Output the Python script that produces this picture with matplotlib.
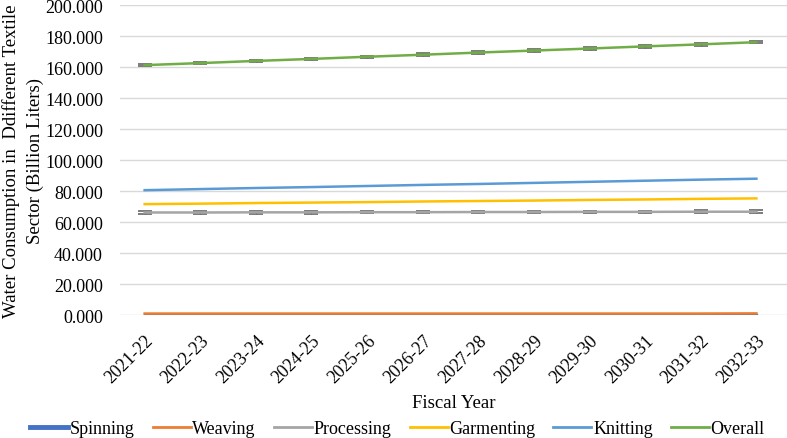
import matplotlib
matplotlib.use("Agg")
import matplotlib.pyplot as plt
import numpy as np
from matplotlib.lines import Line2D

plt.rcParams['font.family'] = ['Liberation Serif', 'DejaVu Serif']

years = ["2021-22", "2022-23", "2023-24", "2024-25", "2025-26", "2026-27",
         "2027-28", "2028-29", "2029-30", "2030-31", "2031-32", "2032-33"]
spinning = [0.3, 0.3, 0.3, 0.3, 0.3, 0.3, 0.3, 0.3, 0.3, 0.3, 0.3, 0.3]
weaving = [1.0, 1.0, 1.0, 1.0, 1.0, 1.0, 1.0, 1.0, 1.0, 1.0, 1.0, 1.1]
processing = [66.2, 66.2, 66.3, 66.3, 66.4, 66.4, 66.5, 66.5, 66.6, 66.6, 66.7, 66.7]
garmenting = [71.6, 71.9, 72.3, 72.6, 72.9, 73.3, 73.6, 73.9, 74.3, 74.6, 75.0, 75.3]
knitting = [80.6, 81.3, 82.0, 82.6, 83.3, 84.0, 84.6, 85.3, 86.0, 86.7, 87.4, 88.0]
overall = [161.3, 162.6, 164.0, 165.3, 166.7, 168.0, 169.4, 170.7, 172.0, 173.4, 174.7, 176.1]

fig = plt.figure(figsize=(7.87, 4.39), dpi=100)
ax = fig.add_axes([0.152, 0.28, 0.848, 0.706])

x = np.arange(len(years))
ecol = '#666666'
ax.plot(x, spinning, color='#4472C4', lw=2.4, label='Spinning', zorder=3)
ax.plot(x, weaving, color='#ED7D31', lw=1.8, label='Weaving', zorder=4)
ax.errorbar(x, processing, yerr=0.8, color='#A5A5A5', lw=1.8, ecolor=ecol,
            elinewidth=1, capsize=5, capthick=1.2, label='Processing', zorder=3)
ax.plot(x, garmenting, color='#FFC000', lw=1.8, label='Garmenting', zorder=3)
ax.plot(x, knitting, color='#5B9BD5', lw=1.8, label='Knitting', zorder=3)
ax.errorbar(x, overall, yerr=0.8, color='#70AD47', lw=1.8, ecolor=ecol,
            elinewidth=1, capsize=5, capthick=1.2, label='Overall', zorder=3)

ax.set_xlim(-0.45, 11.55)
ax.set_ylim(0, 200)
ax.set_yticks(np.arange(0, 201, 20))
ax.set_yticklabels([f"{v:.3f}" for v in np.arange(0, 201, 20)], fontsize=13)
ax.set_xticks(x)
ax.set_xticklabels(years, rotation=45, ha='right', rotation_mode='anchor', fontsize=13)
ax.tick_params(axis='y', length=0, pad=12)
ax.tick_params(axis='x', length=0, pad=12)
ax.grid(axis='y', color='#D9D9D9', lw=1)
ax.set_axisbelow(True)
for s in ax.spines.values():
    s.set_visible(False)

ax.set_ylabel("Water Consumption in  Ddifferent Textile\nSector (Billion Liters)",
              fontsize=13.5, linespacing=1.5)
ax.yaxis.set_label_coords(-0.113, 0.5)
ax.set_xlabel("Fiscal Year", fontsize=13.5, labelpad=6)

handles = [Line2D([], [], color='#4472C4', lw=3.5),
           Line2D([], [], color='#ED7D31', lw=2),
           Line2D([], [], color='#A5A5A5', lw=2),
           Line2D([], [], color='#FFC000', lw=2),
           Line2D([], [], color='#5B9BD5', lw=2),
           Line2D([], [], color='#70AD47', lw=2)]
labels = ['Spinning', 'Weaving', 'Processing', 'Garmenting', 'Knitting', 'Overall']
fig.legend(handles, labels, loc='lower center', bbox_to_anchor=(0.505, -0.035), ncol=6,
           frameon=False, fontsize=13, handlelength=2.1, handletextpad=0.1, columnspacing=1.0)

fig.savefig("out.png", dpi=100)
